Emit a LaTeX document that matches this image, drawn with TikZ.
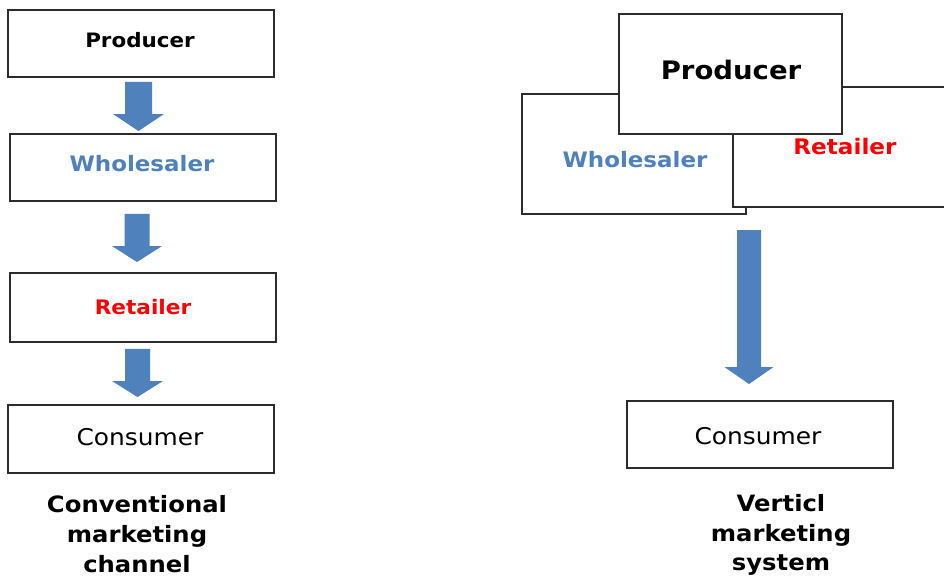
\documentclass[tikz,border=0pt]{standalone}
\usepackage{fontspec}
\setmainfont{DejaVu Sans}[FakeStretch=1.08]
\usetikzlibrary{calc}
\definecolor{wblue}{RGB}{79,129,189}
\definecolor{arrowblue}{RGB}{79,129,189}
\definecolor{rred}{RGB}{255,0,0}
\definecolor{edge}{RGB}{45,45,45}
\newcommand{\blkarrow}[5]{% start, tip, shaft half, head half, head length
  \fill[arrowblue] ($(#1)+(-#3,0)$) -- ($(#1)+(#3,0)$) -- ($(#2)+(#3,-#5)$) -- ($(#2)+(#4,-#5)$)
    -- (#2) -- ($(#2)+(-#4,-#5)$) -- ($(#2)+(-#3,-#5)$) -- cycle;}
\begin{document}
\begin{tikzpicture}[x=0.02cm,y=-0.02cm,
  box/.style={draw=edge,line width=1.1pt,fill=white,rectangle,inner sep=0pt},
  lbl/.style={inner sep=0pt,font=\bfseries},
  captxt/.style={inner sep=0pt,align=center,font=\fontsize{12.8}{17}\selectfont\bfseries}]
\clip (0,0) rectangle (944,576);
\fill[white] (0,0) rectangle (944,576);
% ---------- left: conventional channel
\node[box,minimum width=266*0.02cm,minimum height=67*0.02cm] (lprod) at (141,43.5) {};
\node[lbl,font=\fontsize{11.3}{12}\selectfont\bfseries] (lprodt) at (140,40) {Producer};
\node[box,minimum width=266*0.02cm,minimum height=67*0.02cm] (lwhole) at (143,167.5) {};
\node[lbl,text=wblue,font=\fontsize{12.1}{12}\selectfont\bfseries] (lwholet) at (142,164) {Wholesaler};
\node[box,minimum width=266*0.02cm,minimum height=69*0.02cm] (lret) at (143,307.5) {};
\node[lbl,text=rred,font=\fontsize{11.4}{12}\selectfont\bfseries] (lrett) at (143,307) {Retailer};
\node[box,minimum width=266*0.02cm,minimum height=68*0.02cm] (lcons) at (141,439) {};
\node[inner sep=0pt,font=\fontsize{13.1}{14}\selectfont] (lconst) at (140,437) {Consumer};
\node[captxt] (lcap) at (137,534) {Conventional\\marketing\\channel};
\coordinate (a1s) at ($(lprod.south)+(-2.5,4)$);
\coordinate (a1t) at ($(a1s |- lwhole.north)+(0,-2)$);
\blkarrow{a1s}{a1t}{13.5}{25.5}{17}
\coordinate (a2s) at ($(lwhole.south)+(-6,12)$);
\coordinate (a2t) at ($(a2s |- lret.north)+(0,-10)$);
\blkarrow{a2s}{a2t}{12.5}{25}{16}
\coordinate (a3s) at ($(lret.south)+(-5.5,6)$);
\coordinate (a3t) at ($(a3s |- lcons.north)+(0,-7)$);
\blkarrow{a3s}{a3t}{12.5}{25.5}{16}
% ---------- right: vertical marketing system
\node[box,minimum width=224*0.02cm,minimum height=120*0.02cm] (rwhole) at (634,154) {};
\node[lbl,text=wblue,font=\fontsize{12.1}{12}\selectfont\bfseries] (rwholet) at (635,160) {Wholesaler};
\node[box,minimum width=240*0.02cm,minimum height=120*0.02cm] (rret) at (853,147) {};
\node[lbl,text=rred,font=\fontsize{12.2}{12}\selectfont\bfseries] (rrett) at (845,147) {Retailer};
\node[box,minimum width=223*0.02cm,minimum height=120*0.02cm] (rprod) at (730.5,74) {};
\node[lbl,font=\fontsize{14.5}{15}\selectfont\bfseries] (rprodt) at (731,70) {Producer};
\node[box,minimum width=266*0.02cm,minimum height=67*0.02cm] (rcons) at (760,434.5) {};
\node[inner sep=0pt,font=\fontsize{13.1}{14}\selectfont] (rconst) at (758,436) {Consumer};
\node[captxt] (rcap) at (781,535) {Verticl\\marketing\\system};
\coordinate (a4s) at (749,230);
\coordinate (a4t) at ($(a4s |- rcons.north)+(0,-16)$);
\blkarrow{a4s}{a4t}{12}{24.5}{17}
\end{tikzpicture}
\end{document}
